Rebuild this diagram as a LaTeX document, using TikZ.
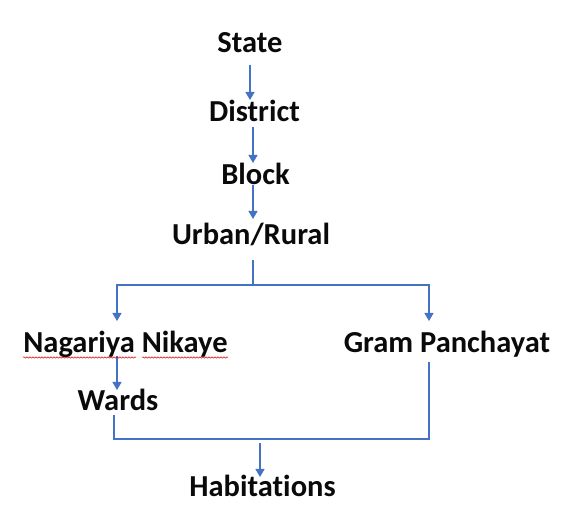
\documentclass[tikz,border=0pt]{standalone}
\usepackage{fontspec}
\setmainfont{Carlito}[Ligatures={NoCommon}]
\usetikzlibrary{arrows.meta,calc,decorations.pathmorphing}
\definecolor{linec}{HTML}{4472C4}
\definecolor{txtc}{HTML}{0A0A0A}
\begin{document}
\begin{tikzpicture}[x=1pt,y=1pt,
  lbl/.style={font=\fontsize{30.5}{32}\selectfont\bfseries, text=txtc, inner sep=0pt, outer sep=0pt, text height=18pt, text depth=0pt, anchor=base},
  ln/.style={draw=linec, line width=1.2pt},
  arr/.style={ln, -{Triangle[width=9pt,length=8pt]}},
  squig/.style={draw=red!85!black, line width=0.5pt, decorate, decoration={snake, amplitude=0.7pt, segment length=3pt}}]
\useasboundingbox (0,0) rectangle (566,516);
\node[lbl] (state) at (250,463) {State};
\node[lbl] (district) at (254.5,394) {District};
\node[lbl] (block) at (255.5,331) {Block};
\node[lbl] (urban) at (251,271) {Urban/Rural};
\node[lbl] (nagar) at (125.5,163) {Nagariya Nikaye};
\node[lbl] (gram) at (447,163) {Gram Panchayat};
\node[lbl] (wards) at (118,105) {Wards};
\node[lbl] (habit) at (262.5,19) {Habitations};
\coordinate (j1) at (253,231);
\coordinate (j2) at (260,77);
% spine
\draw[arr] ([yshift=-12pt]state.south) -- ([yshift=4pt]state.south |- district.north);
\draw[arr] ([xshift=-1.5pt,yshift=-5pt]district.south) -- ([xshift=-1.5pt,yshift=4pt]district.south |- block.north);
\draw[arr] ([xshift=-2.5pt]block.south) -- ([xshift=-2.5pt,yshift=8pt]block.south |- urban.north);
% split
\draw[ln] ([xshift=2pt,yshift=-15pt]urban.south) -- (j1);
\draw[arr] (j1) -| ([xshift=-1pt,yshift=14pt]wards.north |- nagar.north);
\draw[arr] (j1) -| ([xshift=-18pt,yshift=14pt]gram.north);
\draw[arr] ([xshift=-1pt,yshift=-3pt]wards.north |- nagar.south) -- ([xshift=-1pt,yshift=3pt]wards.north);
% merge
\draw[ln] ([xshift=-4pt,yshift=-4pt]wards.south) |- (j2) -| ([xshift=-18pt,yshift=-9pt]gram.south);
\draw[arr] ([yshift=-4pt]j2) -- ([yshift=2pt]j2 |- habit.north);
% spell-check underline
\draw[squig] (23,158.5) -- (136,158.5);
\draw[squig] (142,158.5) -- (228,158.5);
\end{tikzpicture}
\end{document}
